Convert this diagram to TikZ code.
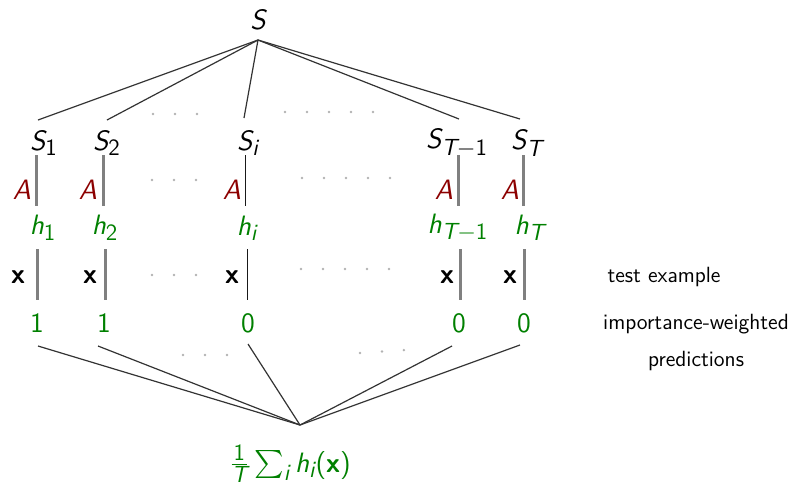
\documentclass[tikz,border=0pt]{standalone}
\usepackage{amsmath,amssymb}
\renewcommand{\familydefault}{\sfdefault}
\usepackage[italic]{mathastext}
\usepackage{tikz}
\usetikzlibrary{positioning}
\definecolor{algred}{RGB}{140,0,0}
\definecolor{hypgreen}{RGB}{0,128,0}
\newcommand{\tminus}{\mathbin{\mathchar"2200}}

\begin{document}
\begin{tikzpicture}[
  x=0.5pt,y=-0.5pt,
  lab/.style={font=\fontsize{14}{17}\selectfont, inner sep=1pt},
  alg/.style={lab, text=algred},
  hyp/.style={lab, text=hypgreen},
  note/.style={font=\fontsize{11}{18.5}\selectfont\sffamily, align=center, inner sep=1pt},
  tie/.style={draw=black!80, line width=0.6pt},
  run/.style={draw=gray, line width=1.5pt},
  runi/.style={draw=black!90, line width=0.5pt},
  dots/.style={draw=gray!60, line width=1.4pt, line cap=round, dash pattern=on 0pt off 11pt}
]
\useasboundingbox (0,0) rectangle (796,484);
% root and subsamples
\node[lab] (S) at (258,20) {$S$};
\coordinate (top) at (258,40);
\node[lab] (S1) at (44,143) {$S_1$};
\node[lab] (S2) at (107,143) {$S_2$};
\node[lab] (Si) at (248,143) {$S_i$};
\node[lab] (STm) at (457,143) {$S_{T\tminus 1}$};
\node[lab] (ST) at (527,143) {$S_T$};
\coordinate (t1) at (38,120);
\coordinate (t2) at (107,120);
\coordinate (ti) at (244,118);
\coordinate (tTm) at (459,119);
\coordinate (tT) at (520,119);
\foreach \c in {t1,t2,ti,tTm,tT}{\draw[tie] (top) -- (\c);}
% learner
\node[alg] (A1) at (22,190) {$A$};
\node[alg] (A2) at (88,190) {$A$};
\node[alg] (Ai) at (232,190) {$A$};
\node[alg] (ATm) at (444,190) {$A$};
\node[alg] (AT) at (510,190) {$A$};
\foreach \c/\x/\s in {1/36/run, 2/103/run, i/245/runi, Tm/458/run, T/523/run}{
  \coordinate (a\c) at (\x,155);
  \coordinate (b\c) at (\x,206);
  \draw[\s] (a\c) -- (b\c);
}
% hypotheses
\node[hyp] (h1) at (43,228) {$h_1$};
\node[hyp] (h2) at (105,228) {$h_2$};
\node[hyp] (hi) at (247,228) {$h_i$};
\node[hyp] (hTm) at (458,228) {$h_{T\tminus 1}$};
\node[hyp] (hT) at (530,228) {$h_T$};
% test example
\node[lab] (x1) at (18,277) {$\mathbf{x}$};
\node[lab] (x2) at (90,277) {$\mathbf{x}$};
\node[lab] (xi) at (232,277) {$\mathbf{x}$};
\node[lab] (xTm) at (447,277) {$\mathbf{x}$};
\node[lab] (xT) at (510,277) {$\mathbf{x}$};
\foreach \c/\x/\s in {1/37/run, 2/105/run, i/247/runi, Tm/460/run, T/524/run}{
  \coordinate (c\c) at (\x,249);
  \coordinate (d\c) at (\x,300);
  \draw[\s] (c\c) -- (d\c);
}
\node[note] (test) at (664,277) {test example};
% predictions
\node[hyp] (p1) at (37,323) {$1$};
\node[hyp] (p2) at (104,323) {$1$};
\node[hyp] (pi) at (248,323) {$0$};
\node[hyp] (pTm) at (459,323) {$0$};
\node[hyp] (pT) at (524,323) {$0$};
\node[note] (pred) at (696,342) {importance-weighted\\predictions};
\coordinate (e1) at (38,346);
\coordinate (e2) at (98,346);
\coordinate (ei) at (248,344);
\coordinate (eTm) at (452,346);
\coordinate (eT) at (520,345);
\coordinate (bot) at (300,425);
\foreach \c in {e1,e2,ei,eTm,eT}{\draw[tie] (\c) -- (bot);}
\node[hyp, anchor=base] (avg) at (290,472) {$\frac{1}{T}\sum_i h_i(\mathbf{x})$};
% elided columns
\draw[dots] (153,114) -- (198,114);
\draw[dots] (285,112) -- (374,112);
\draw[dots] (152,180) -- (197,180);
\draw[dots] (302,178) -- (391,178);
\draw[dots] (152,275) -- (197,275);
\draw[dots] (301,269) -- (390,269);
\draw[dots] (183,355) -- (229,355);
\draw[dots] (360,353) -- (405,350);
\end{tikzpicture}
\end{document}
